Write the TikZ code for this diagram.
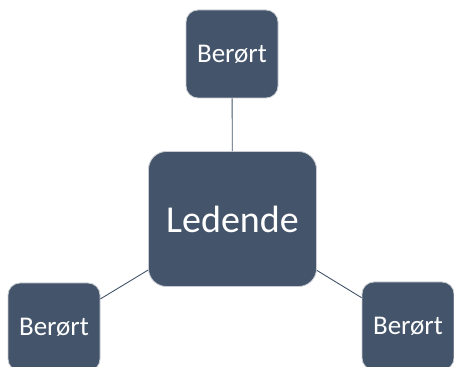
\documentclass[tikz,border=0pt]{standalone}
\usepackage{fontspec}
\setmainfont{Carlito}
\usepackage{xcolor}
\usepackage{tikz}
\usetikzlibrary{positioning}

\definecolor{slate}{HTML}{44546A}
\definecolor{rim}{HTML}{C9CDD3}

\begin{document}
\begin{tikzpicture}[x=1pt, y=1pt,
    party/.style={draw=rim, line width=0.8pt, fill=slate, rectangle, rounded corners=12pt,
        minimum width=92pt, minimum height=88pt, inner sep=0pt, text=white,
        font=\fontsize{27}{30}\selectfont},
    leader/.style={party, rounded corners=18pt, minimum width=168pt, minimum height=135pt,
        font=\fontsize{38}{42}\selectfont},
    link/.style={draw=slate, line width=0.9pt}]
    \useasboundingbox (0,0) rectangle (454,366);
    \clip (0,0) rectangle (454,366);
    \node[leader] (lead) at (232.5,147) {Ledende};
    \node[party] (top) at (232,312) {Berørt};
    \node[party] (left) at (54,39) {Berørt};
    \node[party] (right) at (408,40) {Berørt};
    \draw[link] (top) -- (lead);
    \draw[link] (left) -- (lead);
    \draw[link] (right) -- (lead);
\end{tikzpicture}
\end{document}
